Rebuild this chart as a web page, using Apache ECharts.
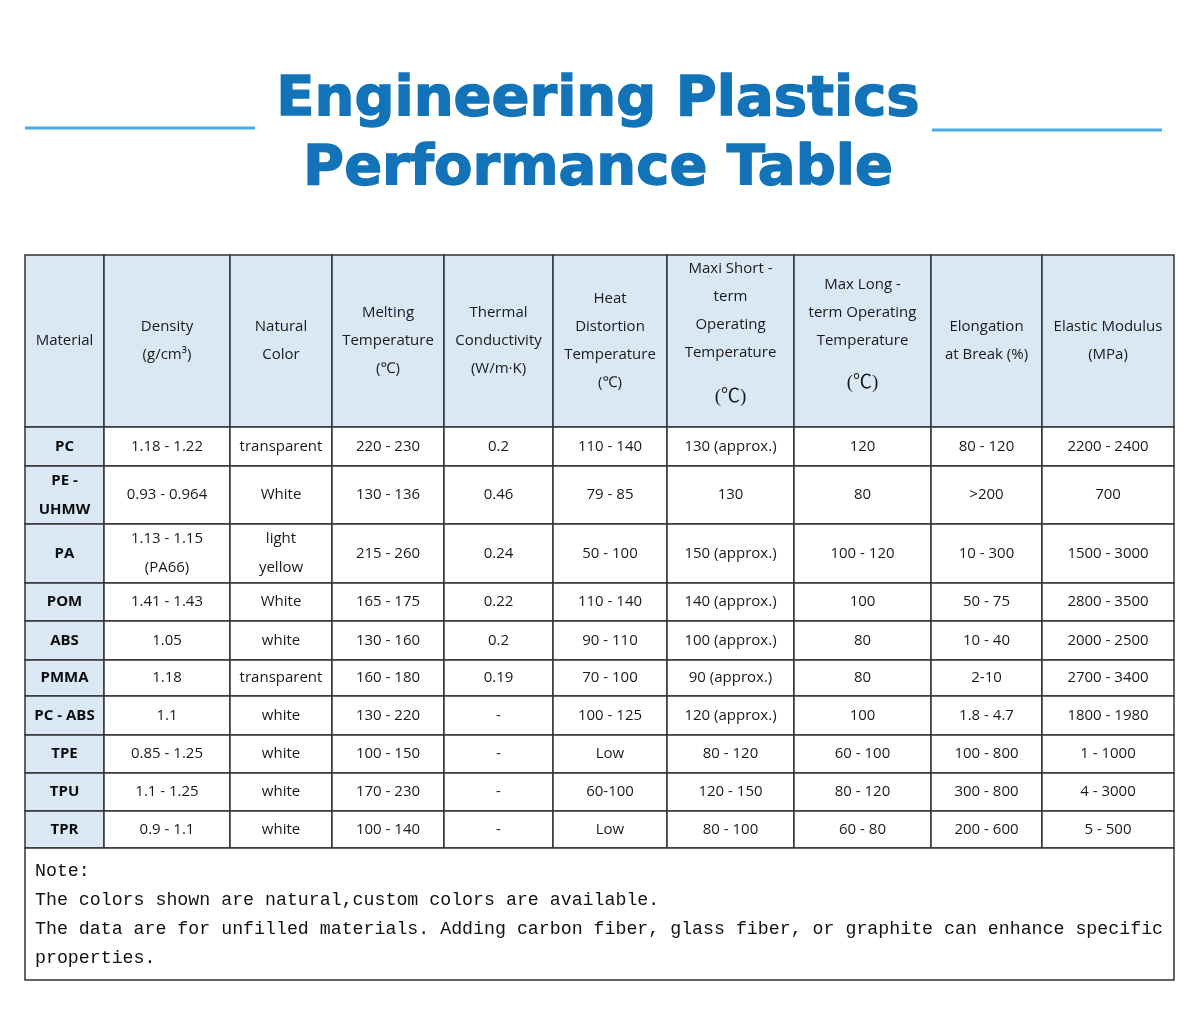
<!DOCTYPE html>
<html>
<head>
<meta charset="utf-8">
<script src="https://cdn.jsdelivr.net/npm/echarts@6/dist/echarts.min.js"></script>
<style>
html,body{margin:0;padding:0;background:#fff;}
#main{width:1196px;height:1024px;}
</style>
</head>
<body>
<div id="main"></div>
<script>
// ---------- DATA ----------
const titleText = 'Engineering Plastics\nPerformance Table';
const headers = [
  'Material',
  'Density\n(g/cm³)',
  'Natural\nColor',
  'Melting\nTemperature\n(℃)',
  'Thermal\nConductivity\n(W/m·K)',
  'Heat\nDistortion\nTemperature\n(℃)',
  'Maxi Short -\nterm\nOperating\nTemperature\n(℃)',
  'Max Long -\nterm Operating\nTemperature\n(℃)',
  'Elongation\nat Break (%)',
  'Elastic Modulus\n(MPa)'
];
const materials = ['PC','PE -\nUHMW','PA','POM','ABS','PMMA','PC - ABS','TPE','TPU','TPR'];
const density = ['1.18 - 1.22','0.93 - 0.964','1.13 - 1.15\n(PA66)','1.41 - 1.43','1.05','1.18','1.1','0.85 - 1.25','1.1 - 1.25','0.9 - 1.1'];
const naturalColor = ['transparent','White','light\nyellow','White','white','transparent','white','white','white','white'];
const meltingTemp = ['220 - 230','130 - 136','215 - 260','165 - 175','130 - 160','160 - 180','130 - 220','100 - 150','170 - 230','100 - 140'];
const thermalCond = ['0.2','0.46','0.24','0.22','0.2','0.19','-','-','-','-'];
const heatDistortion = ['110 - 140','79 - 85','50 - 100','110 - 140','90 - 110','70 - 100','100 - 125','Low','60-100','Low'];
const maxShortTerm = ['130 (approx.)','130','150 (approx.)','140 (approx.)','100 (approx.)','90 (approx.)','120 (approx.)','80 - 120','120 - 150','80 - 100'];
const maxLongTerm = ['120','80','100 - 120','100','80','80','100','60 - 100','80 - 120','60 - 80'];
const elongation = ['80 - 120','>200','10 - 300','50 - 75','10 - 40','2-10','1.8 - 4.7','100 - 800','300 - 800','200 - 600'];
const elasticModulus = ['2200 - 2400','700','1500 - 3000','2800 - 3500','2000 - 2500','2700 - 3400','1800 - 1980','1 - 1000','4 - 3000','5 - 500'];
const noteLines = [
  'Note:',
  'The colors shown are natural,custom colors are available.',
  'The data are for unfilled materials. Adding carbon fiber, glass fiber, or graphite can enhance specific',
  'properties.'
];

// ---------- LAYOUT (pixel-space axis values) ----------
const colEdges = [25, 104, 230, 332, 444, 553, 667, 794, 931, 1042, 1174];
const rowEdges = [255, 427, 466, 524, 583, 621, 660, 696, 735, 773, 811, 848, 980];
const bigUnitLineHeight = {6: 60, 7: 56};

const columns = [materials, density, naturalColor, meltingTemp, thermalCond, heatDistortion, maxShortTerm, maxLongTerm, elongation, elasticModulus];

// build cell list
const cells = [];
headers.forEach((h, c) => cells.push({c0: c, c1: c + 1, r: 0, text: h, kind: 'header'}));
columns.forEach((col, c) => col.forEach((v, i) => cells.push({c0: c, c1: c + 1, r: i + 1, text: v, kind: c === 0 ? 'material' : 'body'})));
cells.push({c0: 0, c1: columns.length, r: materials.length + 1, text: noteLines.join('\n'), kind: 'note'});

const seriesData = cells.map(cl => [
  (colEdges[cl.c0] + colEdges[cl.c1]) / 2,
  (rowEdges[cl.r] + rowEdges[cl.r + 1]) / 2
]);

const HEADER_BG = '#dae8f5';
const BORDER = '#333333';
const TEXT = '#1a1a1a';
const BODY_FONT = '"Open Sans", "Noto Sans", sans-serif';

function renderItem(params, api) {
  const cl = cells[params.dataIndex];
  const p0 = api.coord([colEdges[cl.c0], rowEdges[cl.r]]);
  const p1 = api.coord([colEdges[cl.c1], rowEdges[cl.r + 1]]);
  const x = Math.min(p0[0], p1[0]), y = Math.min(p0[1], p1[1]);
  const w = Math.abs(p1[0] - p0[0]), h = Math.abs(p1[1] - p0[1]);
  const fill = (cl.kind === 'header' || cl.kind === 'material') ? HEADER_BG : '#ffffff';
  const children = [{
    type: 'rect',
    shape: {x: x, y: y, width: w, height: h},
    style: {fill: fill, stroke: BORDER, lineWidth: 1.5}
  }];
  let textStyle;
  if (cl.kind === 'note') {
    textStyle = {
      x: x + 10, y: y + 8.5, text: cl.text,
      textAlign: 'left', textVerticalAlign: 'top',
      fontFamily: '"Liberation Mono", "DejaVu Sans Mono", monospace',
      fontSize: 18.25, lineHeight: 29, fill: '#111111'
    };
  } else if (cl.kind === 'header' && bigUnitLineHeight[cl.c0]) {
    const lines = cl.text.split('\n');
    const rich = lines.map((ln, i) => i === lines.length - 1 ? '{u|' + ln + '}' : '{n|' + ln + '}').join('\n');
    textStyle = {
      x: x + w / 2, y: y + h / 2, text: rich,
      textAlign: 'center', textVerticalAlign: 'middle',
      rich: {
        n: {fontFamily: BODY_FONT, fontSize: 15, lineHeight: 28, fill: TEXT},
        u: {fontFamily: '"Liberation Serif", "Noto Sans CJK SC", serif', fontSize: 19, lineHeight: bigUnitLineHeight[cl.c0], fill: TEXT}
      }
    };
  } else {
    textStyle = {
      x: x + w / 2, y: y + h / 2, text: cl.text,
      textAlign: 'center', textVerticalAlign: 'middle',
      fontFamily: BODY_FONT,
      fontSize: 15,
      fontWeight: cl.kind === 'material' ? 'bold' : 'normal',
      lineHeight: cl.kind === 'header' ? 28 : 29,
      fill: cl.kind === 'material' ? '#0d0d0d' : TEXT
    };
  }
  children.push({type: 'text', style: textStyle});
  return {type: 'group', children: children};
}

const chart = echarts.init(document.getElementById('main'), null, {renderer: 'canvas'});
chart.setOption({
  backgroundColor: '#ffffff',
  animation: false,
  graphic: [
    {type: 'line', shape: {x1: 25, y1: 128, x2: 255, y2: 128}, style: {stroke: '#4aaae8', lineWidth: 3}},
    {type: 'line', shape: {x1: 932, y1: 130, x2: 1162, y2: 130}, style: {stroke: '#4aaae8', lineWidth: 3}},
    {
      type: 'text', x: 598, y: 66,
      style: {
        text: titleText,
        textAlign: 'center', textVerticalAlign: 'top',
        fontFamily: '"DejaVu Sans", sans-serif',
        fontWeight: 'bold', fontSize: 56, lineHeight: 69,
        fill: '#1273b9', stroke: '#1273b9', lineWidth: 1.4
      }
    }
  ],
  grid: {left: 0, right: 0, top: 0, bottom: 0, containLabel: false},
  xAxis: {type: 'value', min: 0, max: 1196, show: false},
  yAxis: {type: 'value', min: 0, max: 1024, inverse: true, show: false},
  series: [{
    type: 'custom',
    renderItem: renderItem,
    clip: false,
    data: seriesData
  }]
});
</script>
</body>
</html>
